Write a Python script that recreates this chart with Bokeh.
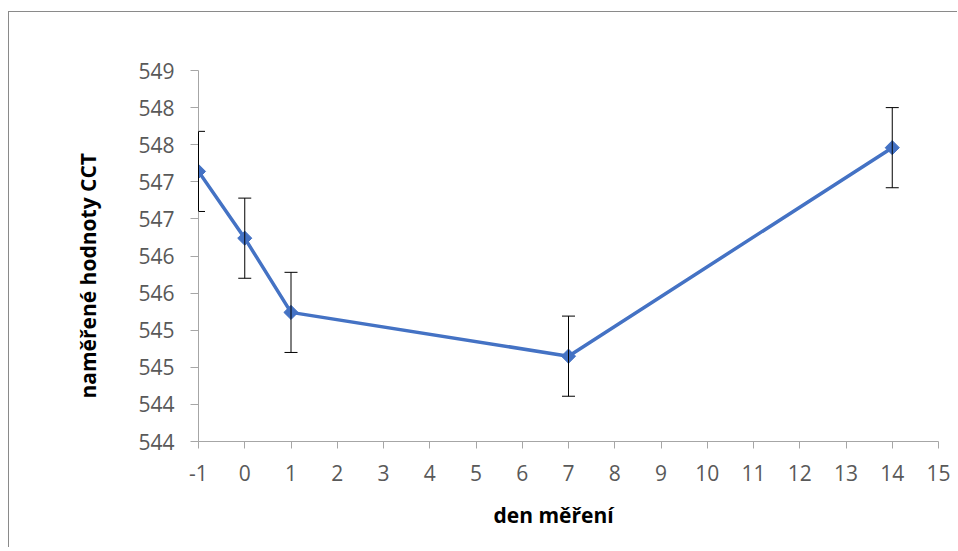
import math
from bokeh.plotting import figure
from bokeh.models import FixedTicker, Range1d, ColumnDataSource, Title
from bokeh.embed import file_html
from bokeh.resources import INLINE

# data
days = [-1, 0, 1, 7, 14]
cct = [547.14, 546.24, 545.24, 544.65, 547.46]
err = [0.54, 0.54, 0.54, 0.54, 0.54]

y_ticks = [543.5, 544.0, 544.5, 545.0, 545.5, 546.0, 546.5, 547.0, 547.5, 548.0, 548.5]
y_tick_labels = ["544", "544", "545", "545", "546", "546", "547", "547", "548", "548", "549"]
x_ticks = [-1, 0, 1, 2, 3, 4, 5, 6, 7, 8, 9, 10, 11, 12, 13, 14, 15]
x_tick_labels = ["-1", "0", "1", "2", "3", "4", "5", "6", "7", "8", "9",
                 "10", "11", "12", "13", "14", "15"]

x_title = "den měření"
y_title = "naměřené hodnoty CCT"

src = ColumnDataSource(dict(
    x=days, y=cct,
    lo=[v - e for v, e in zip(cct, err)],
    hi=[v + e for v, e in zip(cct, err)],
))

p = figure(
    frame_width=740, frame_height=371,
    min_border_left=189, min_border_right=19, min_border_top=58, min_border_bottom=106,
    x_range=Range1d(x_ticks[0], x_ticks[-1]),
    y_range=Range1d(y_ticks[0], y_ticks[-1]),
    output_backend="svg", toolbar_location=None,
    styles={"margin-top": "11px", "margin-left": "8px",
            "border-top": "1px solid #8a8a8a", "border-left": "1px solid #8a8a8a"},
)
p.outline_line_color = None
p.xgrid.grid_line_color = None
p.ygrid.grid_line_color = None
p.background_fill_color = "white"
p.border_fill_color = "white"

FONT = "Open Sans"
AX = "#a6a6a6"
for ax in (p.xaxis[0], p.yaxis[0]):
    ax.axis_line_color = AX
    ax.major_tick_line_color = AX
    ax.minor_tick_line_color = None
    ax.major_tick_in = 0
    ax.major_label_text_font = FONT
    ax.major_label_text_font_size = "21px"
    ax.major_label_text_color = "#595959"

p.xaxis.ticker = FixedTicker(ticks=x_ticks)
p.xaxis.major_label_overrides = {t: l for t, l in zip(x_ticks, x_tick_labels)}
p.xaxis.major_tick_out = 7
p.xaxis.major_label_standoff = 16

p.yaxis.ticker = FixedTicker(ticks=y_ticks)
p.yaxis.major_label_overrides = {t: l for t, l in zip(y_ticks, y_tick_labels)}
p.yaxis.major_tick_out = 8
p.yaxis.major_label_standoff = 16

# axis titles
p.add_layout(Title(text=y_title, align="left", offset=43, standoff=68,
                   text_font=FONT, text_font_size="21px", text_font_style="bold",
                   text_color="#000000"), "left")
p.add_layout(Title(text=x_title, align="left", offset=295, standoff=34,
                   vertical_align="top",
                   text_font=FONT, text_font_size="21px", text_font_style="bold",
                   text_color="#000000"), "below")

# error bars
err_r = p.segment(x0="x", y0="lo", x1="x", y1="hi", source=src, line_color="black", line_width=1)
err_r.level = "overlay"
p.scatter(x="x", y="lo", source=src, marker="dash", size=13, line_color="black", line_width=1)
p.scatter(x="x", y="hi", source=src, marker="dash", size=13, line_color="black", line_width=1)

# series
p.line(x="x", y="y", source=src, line_color="#4472C4", line_width=3.5)
p.scatter(x="x", y="y", source=src, marker="square", angle=math.pi / 4, size=10,
          fill_color="#4472C4", line_color="#4472C4")

open("out.html", "w").write(file_html(p, INLINE))
